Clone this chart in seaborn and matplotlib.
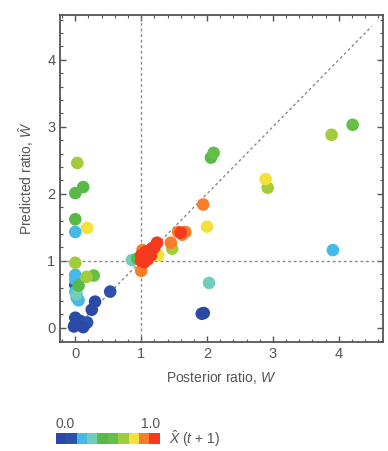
import numpy as np
import pandas as pd
import matplotlib
matplotlib.use('Agg')
import matplotlib.pyplot as plt
import seaborn as sns
from matplotlib.colors import ListedColormap, Normalize
from matplotlib.cm import ScalarMappable
from matplotlib.ticker import MultipleLocator

# discrete colour scale for X-hat(t+1)
bin_colors = ['#2a4aa6', '#2d52ad', '#45b9e8', '#6fcdb9', '#58b947',
              '#63bf4a', '#a3cc3c', '#f2e23a', '#f97c2a', '#f6391d']

# posterior ratio W, predicted ratio W-hat, X-hat (t+1)
posterior = [0.00, 0.02, 0.05, 0.10, 0.15, 0.00, 0.08, -0.02, 0.18, 0.12,
             0.25, 0.30, 0.53, 1.92, 1.95, 0.00,
             0.00, 0.00, 0.00, 0.02, 0.05, 0.00, 3.91,
             0.02, 0.86, 2.03,
             0.00, 0.12, 0.00, 0.05, 0.28, 2.06, 2.10, 4.21, 0.94,
             0.03, 0.00, 0.17, 2.92, 3.89, 1.47,
             0.18, 1.26, 2.00, 2.89,
             1.00, 1.45, 1.56, 1.62, 1.67, 1.94, 1.02,
             1.00, 1.02, 1.05, 1.08, 1.10, 1.12, 1.15, 1.18, 1.20, 1.24,
             1.06, 1.03, 1.00, 1.17, 1.60]
predicted = [0.15, 0.10, 0.05, 0.03, 0.06, 0.05, 0.10, 0.02, 0.08, 0.01,
             0.27, 0.39, 0.54, 0.21, 0.22, 0.64,
             0.79, 0.72, 0.54, 0.45, 0.41, 1.43, 1.16,
             0.50, 1.01, 0.67,
             2.01, 2.10, 1.62, 0.63, 0.78, 2.54, 2.61, 3.03, 1.03,
             2.46, 0.97, 0.76, 2.09, 2.88, 1.18,
             1.49, 1.08, 1.51, 2.22,
             0.85, 1.27, 1.43, 1.39, 1.43, 1.84, 1.16,
             1.00, 1.05, 0.98, 1.10, 1.02, 1.15, 1.08, 1.19, 1.20, 1.27,
             1.13, 0.99, 1.08, 1.19, 1.42]
x_hat = [0.05, 0.05, 0.05, 0.05, 0.15, 0.05, 0.05, 0.05, 0.15, 0.05,
         0.05, 0.05, 0.15, 0.05, 0.05, 0.15,
         0.25, 0.25, 0.25, 0.25, 0.25, 0.25, 0.25,
         0.35, 0.35, 0.35,
         0.45, 0.45, 0.45, 0.45, 0.55, 0.45, 0.55, 0.55, 0.45,
         0.65, 0.65, 0.65, 0.65, 0.65, 0.65,
         0.75, 0.75, 0.75, 0.75,
         0.85, 0.85, 0.85, 0.85, 0.85, 0.85, 0.85,
         0.95, 0.95, 0.95, 0.95, 0.95, 0.95, 0.95, 0.95, 0.95, 0.95,
         0.95, 0.95, 0.95, 0.95, 0.95]

df = pd.DataFrame({'W': posterior, 'W_hat': predicted, 'X': x_hat})

sns.set_style('ticks')
plt.rcParams['font.family'] = ['Liberation Sans', 'DejaVu Sans']
plt.rcParams['mathtext.fontset'] = 'custom'
plt.rcParams['mathtext.it'] = 'Liberation Sans:italic'
plt.rcParams['mathtext.rm'] = 'Liberation Sans'
text_col = '#555555'

cmap = ListedColormap(bin_colors)

fig = plt.figure(figsize=(3.88, 4.51), dpi=100)
ax = fig.add_axes([0.155, 0.242, 0.832, 0.725])

# reference lines
ax.plot([0, 4.5], [0, 4.5], color='#888888', lw=1, ls=(0, (2, 2)), zorder=1)
ax.axvline(1, color='#888888', lw=1, ls=(0, (2, 2)), zorder=1)
ax.axhline(1, color='#888888', lw=1, ls=(0, (2, 2)), zorder=1)

sns.scatterplot(data=df, x='W', y='W_hat', hue='X', palette=cmap, hue_norm=(0, 1),
                s=82, linewidth=0, legend=False, ax=ax, zorder=3)

ax.set_xlim(-0.23, 4.67)
ax.set_ylim(-0.21, 4.67)
ax.xaxis.set_major_locator(MultipleLocator(1))
ax.yaxis.set_major_locator(MultipleLocator(1))
ax.xaxis.set_minor_locator(MultipleLocator(0.2))
ax.yaxis.set_minor_locator(MultipleLocator(0.2))
ax.tick_params(which='both', direction='in', top=True, right=True,
               color='#555555', labelcolor=text_col, labelsize=10.5)
ax.tick_params(which='major', length=4, width=1)
ax.tick_params(which='minor', length=2, width=0.8)
for sp in ax.spines.values():
    sp.set_color('#555555')
    sp.set_linewidth(1.3)

ax.set_xlabel(r'Posterior ratio, $W$', fontsize=10, color=text_col, labelpad=6)
ax.set_ylabel(r'Predicted ratio, $\hat{W}$', fontsize=10, color=text_col, labelpad=8)

# discrete colour bar
cax = fig.add_axes([0.144, 0.0155, 0.268, 0.0244])
cb = fig.colorbar(ScalarMappable(norm=Normalize(0, 1), cmap=cmap), cax=cax,
                  orientation='horizontal')
cb.outline.set_visible(False)
cax.set_xticks([])
fig.text(0.144, 0.045, '0.0', fontsize=10, color=text_col, ha='left', va='bottom')
fig.text(0.412, 0.045, '1.0', fontsize=10, color=text_col, ha='right', va='bottom')
fig.text(0.435, 0.028, r'$\hat{X}$ ($t$ + 1)', fontsize=10, color=text_col,
         ha='left', va='center')

fig.savefig('out.png', dpi=100)
